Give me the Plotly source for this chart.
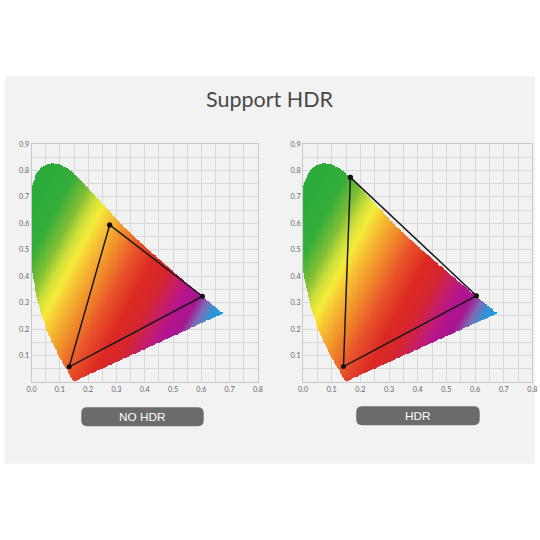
import numpy as np
import plotly.graph_objects as go

# ---- data ----
# gamut outline (shared by both diagrams), chromaticity x / y
gamut_x = [0.148, 0.125, 0.095, 0.051, 0.022, 0.004, -0.005, -0.009, -0.008, 0.001, 0.018, 0.042,
           0.072, 0.101, 0.130, 0.172, 0.219, 0.270, 0.320, 0.397, 0.497, 0.604, 0.678]
gamut_y = [0.000, 0.044, 0.100, 0.200, 0.300, 0.401, 0.500, 0.597, 0.677, 0.740, 0.791, 0.818,
           0.826, 0.822, 0.806, 0.765, 0.712, 0.652, 0.594, 0.516, 0.422, 0.324, 0.259]

# colour triangles
nohdr_x = [0.276, 0.604, 0.133]
nohdr_y = [0.594, 0.324, 0.057]
hdr_x = [0.165, 0.605, 0.141]
hdr_y = [0.774, 0.326, 0.058]

x_ticks = [0.0, 0.1, 0.2, 0.3, 0.4, 0.5, 0.6, 0.7, 0.8]
y_ticks = [0.1, 0.2, 0.3, 0.4, 0.5, 0.6, 0.7, 0.8, 0.9]

title_text = "Support HDR"
labels = ["NO HDR", "HDR"]

# gradient stops of the fill (position along the diagonal colour band)
grad_pos = [-0.34, -0.24, -0.17, -0.12, -0.08, -0.03, 0.04, 0.12, 0.20, 0.27, 0.33, 0.38, 0.43, 0.47, 0.51, 0.58]
grad_col = ["#2bab3a", "#34ad3a", "#7fbf35", "#cfe03a", "#f5ec3a", "#f6c033", "#f08e2a", "#e8532a",
            "#dc2a22", "#d4262e", "#c41e6a", "#b3148e", "#a6178f", "#7c6db5", "#2e95d8", "#0a9fe0"]

# ---- gradient fill clipped to the gamut outline ----
gx = np.arange(-0.012, 0.692, 0.003)
gy = np.arange(0.0, 0.835, 0.003)
XX, YY = np.meshgrid(gx, gy)
vx = np.array(gamut_x)
vy = np.array(gamut_y)
inside = np.zeros(XX.shape, dtype=bool)
j = len(vx) - 1
for i in range(len(vx)):
    cross = (vy[i] > YY) != (vy[j] > YY)
    xint = (vx[j] - vx[i]) * (YY - vy[i]) / (vy[j] - vy[i] + 1e-12) + vx[i]
    inside ^= cross & (XX < xint)
    j = i
band = XX - 0.5 * YY
zfill = np.where(inside, band, np.nan)

lo, hi = grad_pos[0], grad_pos[-1]
colorscale = [[(p - lo) / (hi - lo), c] for p, c in zip(grad_pos, grad_col)]

# screen-position helpers (target pixel -> paper fraction, compensating page framing)
W = 540.0


def PX(px):
    return min(max(((px - 5.0) / 0.978) / W, 0.0), 1.0)


def PY(py):
    return min(max(1 - ((py - 4.8) / 0.99) / W, 0.0), 1.0)


fig = go.Figure()

for k, (tx, ty) in enumerate([(nohdr_x, nohdr_y), (hdr_x, hdr_y)]):
    xa = "x" if k == 0 else "x2"
    ya = "y" if k == 0 else "y2"
    fig.add_trace(go.Heatmap(x=gx, y=gy, z=zfill, colorscale=colorscale, zmin=lo, zmax=hi,
                             showscale=False, hoverinfo="skip", xaxis=xa, yaxis=ya))
    fig.add_trace(go.Scatter(x=tx + [tx[0]], y=ty + [ty[0]], mode="lines+markers",
                             line=dict(color="#1a1a1a", width=1.5),
                             marker=dict(color="#111111", size=5),
                             showlegend=False, hoverinfo="skip", xaxis=xa, yaxis=ya))

axis_common = dict(showgrid=True, gridcolor="#d9d9d9", gridwidth=1,
                   minor=dict(dtick=0.05, showgrid=True, gridcolor="#d9d9d9", gridwidth=1),
                   showline=True, linecolor="#c9c9c9", linewidth=1, mirror=True,
                   zeroline=False, ticks="", tickfont=dict(family="Lato", size=7.2, color="#666666"),
                   fixedrange=True)

ydom = [PY(381.7), PY(144.5)]
fig.update_layout(
    width=540, height=540, autosize=False,
    margin=dict(l=0, r=0, t=0, b=0),
    paper_bgcolor="white",
    plot_bgcolor="rgba(0,0,0,0)",
    showlegend=False,
    xaxis=dict(domain=[PX(31.5), PX(257)], range=[0, 0.8], tickvals=x_ticks,
               ticktext=[f"{v:.1f}" for v in x_ticks], anchor="y", **axis_common),
    yaxis=dict(domain=ydom, range=[0, 0.9], tickvals=y_ticks,
               ticktext=[f"{v:.1f}" for v in y_ticks], anchor="x", **axis_common),
    xaxis2=dict(domain=[PX(302), PX(530.5)], range=[0, 0.8], tickvals=x_ticks,
                ticktext=[f"{v:.1f}" for v in x_ticks], anchor="y2", **axis_common),
    yaxis2=dict(domain=ydom, range=[0, 0.9], tickvals=y_ticks,
                ticktext=[f"{v:.1f}" for v in y_ticks], anchor="x2", **axis_common),
)


def rounded(x0, y0, x1, y1, r):
    X0, X1 = PX(x0), PX(x1)
    Y0, Y1 = PY(y1), PY(y0)
    R = r / W
    return (f"M {X0+R},{Y0} L {X1-R},{Y0} Q {X1},{Y0} {X1},{Y0+R} L {X1},{Y1-R} "
            f"Q {X1},{Y1} {X1-R},{Y1} L {X0+R},{Y1} Q {X0},{Y1} {X0},{Y1-R} "
            f"L {X0},{Y0+R} Q {X0},{Y0} {X0+R},{Y0} Z")


shapes = [
    dict(type="rect", xref="paper", yref="paper", x0=0, x1=1, y0=PY(463), y1=PY(77),
         fillcolor="#f2f2f2", line=dict(width=0), layer="below"),
    dict(type="path", xref="paper", yref="paper", path=rounded(81, 407, 203, 426, 6),
         fillcolor="#6b6b6b", line=dict(width=0)),
    dict(type="path", xref="paper", yref="paper", path=rounded(355, 406, 478, 425, 6),
         fillcolor="#6b6b6b", line=dict(width=0)),
]
fig.update_layout(shapes=shapes)

annotations = [
    dict(text=title_text, x=PX(269), y=PY(100), xref="paper", yref="paper", showarrow=False,
         font=dict(family="Lato", size=21.5, color="#484848"), xanchor="center", yanchor="middle"),
    dict(text=labels[0], x=PX(142), y=PY(416.5), xref="paper", yref="paper", showarrow=False,
         font=dict(family="Liberation Sans", size=11.8, color="white"), xanchor="center", yanchor="middle"),
    dict(text=labels[1], x=PX(416.5), y=PY(415.5), xref="paper", yref="paper", showarrow=False,
         font=dict(family="Liberation Sans", size=11.8, color="white"), xanchor="center", yanchor="middle"),
]
fig.update_layout(annotations=annotations)

fig.write_html("out.html", config={"displayModeBar": False, "responsive": False},
               default_width="540px", default_height="540px",
               post_script="document.body.style.margin='0';document.body.style.padding='0';"
                           "document.documentElement.style.overflow='hidden';"
                           "document.body.style.overflow='hidden';")
